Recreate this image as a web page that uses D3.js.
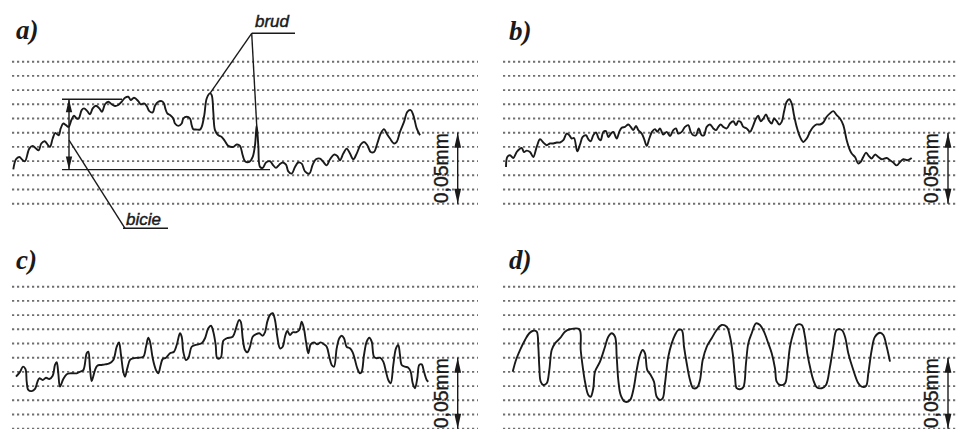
<!DOCTYPE html>
<html>
<head>
<meta charset="utf-8">
<script src="https://cdn.jsdelivr.net/npm/d3@7"></script>
<style>
  html, body { margin: 0; padding: 0; background: #fff; }
  svg { display: block; }
</style>
</head>
<body>
<svg id="chart" width="958" height="429"></svg>
<script>
// Roundness profile traces: [position along trace, deviation in 0.01 mm]
const profileA = [
  [1.3,2.42],[4,3.13],[7.3,3.29],[10.7,3.06],[13,2.99],[17.3,3.88],[20.7,4.07],[24,3.88],[26.7,3.76],
  [29.3,4.24],[32.7,4.40],[36,4.12],[38,4.0],[40.7,4.59],[43.3,4.99],[46.7,4.82],[48.7,5.3],[51.3,5.65],
  [54,5.53],[56.7,5.41],[59.3,5.88],[62,6.19],[64.7,6.0],[66.7,6.0],[69.7,6.59],[72,6.71],[75.3,6.52],
  [78,6.29],[80.7,6.71],[84,6.9],[87.3,6.71],[90,6.47],[93,7.0],[96.3,7.18],[99.7,7.0],[103,6.88],
  [106.3,6.95],[109.7,7.18],[113,7.46],[116.3,7.53],[118.7,7.3],[122,7.46],[126.3,7.22],[128.7,7.0],
  [132,7.06],[134.7,6.88],[137.3,6.52],[140.7,6.43],[143,6.9],[146.3,7.18],[149.7,7.22],[152,7.06],
  [153.3,6.71],[155.3,6.36],[158,6.24],[161.3,6.0],[163,5.65],[166.3,5.48],[169.7,5.65],[171.3,6.0],
  [174.7,6.12],[178,6.0],[179.7,5.53],[181.3,5.25],[184.7,5.22],[188,5.22],[189.7,5.41],[192.3,6.24],
  [194.7,7.41],[198,7.77],[199.7,7.65],[201.3,6.47],[203,5.18],[206.3,4.82],[209.7,4.7],[213,4.4],
  [216.3,4.07],[221.3,4.0],[224.7,4.17],[228,4.07],[230.7,3.41],[233,2.99],[237.3,2.94],[240.7,3.29],
  [243,4.12],[244.7,5.53],[246.3,4.1],[248,2.59],[250.7,2.52],[254,2.9],[258,2.99],[261.3,2.7],
  [264,2.52],[267.3,2.75],[270.7,2.9],[274,2.75],[276.3,2.28],[279.7,2.12],[283,2.59],[286.3,2.9],
  [289.7,2.82],[293,2.28],[297.3,2.12],[300.7,2.75],[304,3.13],[308,3.18],[311.3,2.94],[314.7,2.7],
  [318,3.13],[322,3.46],[325.3,3.36],[328,3.06],[331.3,3.53],[334.7,3.88],[338,3.53],[341.3,3.13],
  [344.7,3.53],[348.7,4.17],[352,4.35],[355.3,4.12],[358.7,3.64],[362,3.64],[365.3,4.24],[368.7,4.94],
  [372,5.25],[374.7,4.94],[378,4.59],[382,4.24],[384.7,4.35],[388,5.06],[392,5.76],[395.3,6.47],
  [398.7,6.59],[401.3,6.24],[404.7,5.3],[408,4.82]
];

const profileB = [
  [3,2.59],[4.3,3.29],[7,3.41],[10.3,3.22],[13.7,3.64],[16.3,3.83],[18.7,3.93],[21,3.64],[23.7,3.74],
  [27,3.64],[30.3,3.29],[33.7,4.0],[37,4.54],[40.3,4.31],[43.7,4.12],[47,4.24],[50.3,4.24],[53.7,4.31],
  [57,4.31],[60.3,4.47],[63.7,4.94],[66.3,4.82],[68.7,4.59],[71,4.63],[74.3,3.69],[77,4.17],[79.7,4.7],
  [83,4.82],[85.3,4.54],[87.7,4.40],[90.3,4.82],[93,5.01],[95.7,4.59],[97.7,4.47],[100.3,5.06],
  [103,5.11],[105.3,4.70],[108,4.94],[110.3,5.06],[113.7,4.59],[116.3,5.06],[118.7,5.34],[122,5.41],
  [125.3,5.58],[127.7,5.41],[130.3,5.18],[133,5.48],[135.3,5.18],[138.7,4.94],[141,4.59],[143.7,4.07],
  [146.3,4.59],[149,5.06],[152,5.25],[154.3,5.06],[157,5.30],[160.3,4.87],[163.7,5.06],[167,4.77],
  [170.3,5.18],[173,5.30],[175.3,4.94],[178.7,5.06],[182,5.41],[185.3,5.53],[187.7,5.06],[190.3,4.82],
  [193,4.82],[195.7,5.30],[198.7,4.82],[201,4.82],[203.7,5.41],[207,5.58],[210.3,5.30],[213,5.18],
  [215.3,5.41],[217.7,5.58],[220.3,5.41],[223.7,5.30],[227,5.65],[230.3,5.81],[233,5.53],[235.3,5.81],
  [237.7,5.76],[240.3,5.41],[243.7,5.30],[247,5.06],[249.7,5.41],[253,6.0],[255.3,6.19],[257.7,5.81],
  [260.3,6.0],[263,6.29],[265.7,5.88],[268.7,5.65],[271,6.0],[273.7,5.81],[276.3,5.58],[278.7,5.76],
  [281,6.47],[283.7,7.18],[286.3,7.36],[288.7,7.06],[291,6.24],[293.7,5.41],[297,4.70],[300.3,4.35],
  [303.7,4.59],[307,5.06],[310.3,5.41],[313.7,5.58],[317,5.58],[320.3,5.72],[323.7,6.12],[327,6.36],
  [330.3,6.52],[333.7,6.24],[337,6.0],[340.3,5.53],[343.7,4.47],[346.3,3.88],[348.7,3.53],[352,3.29],
  [355.3,2.82],[357.7,2.94],[360.3,3.29],[363,3.6],[365.3,3.41],[368.7,3.18],[372,3.46],[375.3,3.29],
  [378.7,3.13],[383.7,3.22],[387,3.06],[390.3,2.9],[393.7,2.7],[397,2.94],[400.3,3.13],[404.3,3.06],
  [408.7,3.22]
];

const profileC = [
  [4,3.66],[8,4.0],[11,4.37],[13.5,4.2],[14.7,3.31],[16.3,2.73],[19.7,2.65],[23,2.8],[25.3,3.27],
  [27.3,3.55],[30.7,3.43],[34,3.59],[37.3,3.5],[40.7,3.73],[43,4.49],[44.7,4.68],[46.3,3.9],[48,2.96],
  [51.3,3.5],[54.7,3.83],[58,3.9],[61.3,3.9],[64.7,3.9],[68,4.01],[71.3,4.13],[74.7,5.31],[76.3,5.42],
  [78,4.25],[79.7,3.36],[83,4.13],[85.3,4.44],[88.7,4.49],[93,4.53],[97.3,4.6],[101.3,4.84],[104.7,5.77],
  [107,6.08],[109,5.19],[111.3,4.01],[113,3.66],[115.3,4.25],[118,4.84],[121.3,4.96],[126.3,5.0],
  [131.3,5.07],[134,5.77],[136.3,6.41],[138,6.13],[140.7,4.96],[144,4.13],[146.3,3.9],[148.7,4.49],
  [150.7,4.91],[154,5.0],[158,5.31],[162,5.42],[164.7,5.89],[168,6.72],[169.7,6.48],[171.3,5.42],
  [174,4.84],[176.3,4.96],[179.7,5.77],[183,5.89],[186.3,5.94],[189.7,6.01],[193,6.37],[196.3,7.07],
  [199,7.25],[201.3,6.83],[203.7,5.89],[205.3,4.96],[208.7,5.0],[211.3,6.2],[214.7,6.37],[220.7,6.48],
  [224,7.07],[227,7.65],[228.7,7.54],[230.7,6.37],[233,5.54],[235.3,5.38],[238,5.77],[240.7,6.48],
  [244,6.65],[247.3,6.72],[250.7,6.55],[253,6.79],[255.3,7.54],[258,8.01],[260.7,8.13],[263,7.65],
  [265.3,6.48],[268,5.66],[270.7,5.77],[273,6.48],[275.3,6.88],[278,6.6],[280.7,6.79],[284,6.79],
  [287.3,6.95],[289.7,7.54],[292,7.02],[294,6.13],[296.3,5.31],[298.7,5.94],[302,6.08],[305.3,5.94],
  [308.7,6.08],[312,5.94],[314.7,5.77],[317.3,5.07],[319.7,4.49],[322,4.37],[324.7,5.66],[327.3,6.37],
  [329.7,6.55],[332,6.37],[334.7,5.77],[338,5.66],[340.7,5.38],[343,4.84],[345.3,4.25],[348,3.9],
  [349.7,4.01],[352,5.19],[354.7,6.13],[357.3,6.41],[359.7,6.13],[362,5.07],[364.7,4.96],[368,5.0],
  [371.3,4.72],[374,4.01],[376.3,3.43],[378.7,3.2],[381.3,4.49],[384,5.66],[386.3,5.89],[388,5.19],
  [389.7,4.49],[393,4.37],[396.3,4.3],[398.7,4.01],[400.7,3.2],[403,2.85],[405.3,3.55],[407.3,4.49],
  [409.7,4.53],[412,4.01],[414.7,3.43],[416.3,3.3]
];

const profileD = [
  [9.7,4.01],[13,4.84],[17,5.54],[22,6.25],[26.3,6.72],[30.3,6.9],[33.7,6.83],[35.3,5.77],[36.3,4.37],
  [37.7,3.31],[40.3,3.08],[43.7,3.2],[46.3,4.13],[48.7,5.54],[52,6.01],[57,6.37],[62,6.83],[67,7.0],
  [76.3,7.0],[77.7,5.54],[79.7,4.37],[82,3.31],[85.3,2.37],[87.7,2.25],[90.3,2.85],[92,4.01],[97,4.72],
  [102,5.77],[105.3,6.48],[108.7,6.72],[112,6.48],[113.7,5.07],[115.3,3.43],[117.7,2.37],[122,1.9],
  [127,2.02],[130.3,2.73],[133.7,4.13],[137,5.19],[139.7,5.54],[142,5.31],[144.3,4.13],[147.7,3.78],
  [151,3.31],[153.7,2.25],[157,2.02],[159.7,2.14],[162,3.2],[165.3,5.07],[168.7,6.01],[172,6.6],
  [175.3,6.95],[178.7,6.95],[181,5.77],[183.7,4.61],[187,3.43],[190.3,2.85],[194.3,2.92],[197,3.43],
  [199.7,4.84],[203.7,5.77],[208.7,6.37],[213.7,6.95],[218.7,7.3],[223.7,7.18],[227,6.48],[229.7,5.31],
  [232,3.66],[233.7,2.85],[237,2.78],[240.3,2.92],[243,4.61],[245.3,6.01],[248.7,6.72],[253,7.42],
  [257,7.3],[261,6.83],[265.3,6.01],[268.7,5.31],[272,4.25],[273.7,3.31],[277,3.08],[282,3.2],
  [284.3,4.13],[287,5.77],[290.3,6.72],[293.7,7.3],[298.7,7.3],[302,6.48],[304.3,5.31],[307.7,4.13],
  [310.3,3.43],[313.7,2.92],[318.7,2.85],[323,3.08],[327,4.37],[330.3,5.77],[333.7,6.95],[338.7,6.95],
  [342,6.48],[345.3,5.31],[350.3,4.13],[355.3,3.2],[358.7,2.96],[363,3.01],[365.3,3.9],[368.7,5.54],
  [372,6.48],[377,6.76],[380.3,6.6],[383.7,5.77],[387,4.72]
];

// Chart paper ruling, in 0.01 mm
const gridLevels = [0, 1, 2, 3, 4, 5, 6, 7, 8, 9, 10];
// Scale bar span (0.05 mm) and its caption
const scaleSpan = 5;
const scaleText = "0,05mm";
// Annotation values for panel a (runout band and dirt spikes)
const runoutTop = 7.36;
const runoutBottom = 2.4;
const dirtPeaks = [[198, 7.77], [244.7, 5.53]];
const annotationLabels = ["bicie", "brud"];
const panelLabels = ["a)", "b)", "c)", "d)"];

const svg = d3.select("#chart");
const ink = "#1a1a1a";

const panels = [
  { label: panelLabels[0], data: profileA, left: 12,  right: 478, top: 61.7,  bottom: 203.7, lx: 16,  ly: 39, barX: 445.7, textX: 435.5 },
  { label: panelLabels[1], data: profileB, left: 503, right: 958, top: 61.7,  bottom: 203.7, lx: 509, ly: 40, barX: 445,   textX: 435 },
  { label: panelLabels[2], data: profileC, left: 12,  right: 478, top: 286.7, bottom: 428.7, lx: 16,  ly: 269, barX: 445.7, textX: 435.5 },
  { label: panelLabels[3], data: profileD, left: 503, right: 958, top: 286.7, bottom: 428.7, lx: 509, ly: 269, barX: 445,   textX: 435 }
];

function arrowHead(g, cx, tipY, dir, len, half) {
  // dir = -1 points up, +1 points down
  const baseY = tipY - dir * len;
  g.append("path")
    .attr("d", `M${cx},${tipY}L${cx - half},${baseY}L${cx + half},${baseY}Z`)
    .attr("fill", ink);
}

const scales = [];

panels.forEach(p => {
  const x = d3.scaleLinear().domain([0, p.right - p.left]).range([p.left, p.right]);
  const y = d3.scaleLinear().domain([0, 10]).range([p.bottom, p.top]);
  scales.push({ x, y });
  const g = svg.append("g");

  // dotted ruling
  g.selectAll("line.grid").data(gridLevels).join("line")
    .attr("class", "grid")
    .attr("x1", x(0)).attr("x2", x(p.right - p.left))
    .attr("y1", d => y(d)).attr("y2", d => y(d))
    .attr("stroke", "#6f6f6f")
    .attr("stroke-width", 1.9)
    .attr("stroke-dasharray", "2.2,2.8");

  // profile trace
  const line = d3.line()
    .x(d => x(d[0]))
    .y(d => y(d[1]))
    .curve(d3.curveCatmullRom.alpha(0.5));
  g.append("path")
    .datum(p.data)
    .attr("d", line)
    .attr("fill", "none")
    .attr("stroke", ink)
    .attr("stroke-width", 1.9)
    .attr("stroke-linejoin", "round");

  // 0,05 mm scale bar
  const bx = x(p.barX);
  g.append("line")
    .attr("x1", bx).attr("x2", bx)
    .attr("y1", y(0)).attr("y2", y(scaleSpan))
    .attr("stroke", ink).attr("stroke-width", 1.4);
  arrowHead(g, bx, y(scaleSpan), -1, 15, 3.4);
  arrowHead(g, bx, y(0), 1, 15, 3.4);
  const ty = y(scaleSpan / 2);
  g.append("text")
    .attr("transform", `translate(${x(p.textX)},${ty}) rotate(-90)`)
    .attr("text-anchor", "middle")
    .attr("font-family", "Liberation Sans, Arial, sans-serif")
    .attr("font-size", 20)
    .attr("textLength", 70)
    .attr("lengthAdjust", "spacingAndGlyphs")
    .attr("fill", ink)
    .attr("stroke", ink)
    .attr("stroke-width", 0.4)
    .text(scaleText);

  // panel letter
  svg.append("text")
    .attr("x", p.lx).attr("y", p.ly)
    .attr("font-family", "Liberation Serif, Times New Roman, serif")
    .attr("font-weight", "bold")
    .attr("font-style", "italic")
    .attr("font-size", 27)
    .attr("fill", ink)
    .text(p.label);
});

// Panel a annotations: runout band ("bicie") and dirt spikes ("brud")
(function () {
  const { x, y } = scales[0];
  const g = svg.append("g")
    .attr("stroke", ink)
    .attr("stroke-width", 1.4)
    .attr("fill", "none");

  // runout bounds
  g.append("line").attr("x1", x(50)).attr("x2", x(110)).attr("y1", y(runoutTop)).attr("y2", y(runoutTop));
  g.append("line").attr("x1", x(50)).attr("x2", x(258)).attr("y1", y(runoutBottom)).attr("y2", y(runoutBottom));
  // double arrow across the band
  const ax = x(57);
  g.append("line").attr("x1", ax).attr("x2", ax).attr("y1", y(runoutTop)).attr("y2", y(runoutBottom));
  arrowHead(svg, ax, y(runoutTop), -1, 13, 3.2);
  arrowHead(svg, ax, y(runoutBottom), 1, 13, 3.2);

  // leader to "bicie"
  g.append("line").attr("x1", ax).attr("y1", y(4.47)).attr("x2", x(113)).attr("y2", y(-1.73));
  g.append("line").attr("x1", x(111)).attr("x2", x(156)).attr("y1", y(-1.73)).attr("y2", y(-1.73));
  const labelStyle = t => t
    .attr("font-family", "Liberation Sans, Arial, sans-serif")
    .attr("font-style", "italic")
    .attr("font-size", 17)
    .attr("fill", ink)
    .attr("stroke", ink)
    .attr("stroke-width", 0.45);
  svg.append("text")
    .attr("x", x(114)).attr("y", y(-1.73) - 3.5)
    .call(labelStyle)
    .text(annotationLabels[0]);

  // leaders to the dirt spikes
  const hub = [x(239.7), y(12)];
  g.append("line").attr("x1", hub[0]).attr("x2", x(283)).attr("y1", hub[1]).attr("y2", hub[1]);
  dirtPeaks.forEach(d => {
    g.append("line").attr("x1", hub[0]).attr("y1", hub[1]).attr("x2", x(d[0])).attr("y2", y(d[1]));
  });
  svg.append("text")
    .attr("x", x(243)).attr("y", hub[1] - 6)
    .call(labelStyle)
    .text(annotationLabels[1]);
})();
</script>
</body>
</html>
